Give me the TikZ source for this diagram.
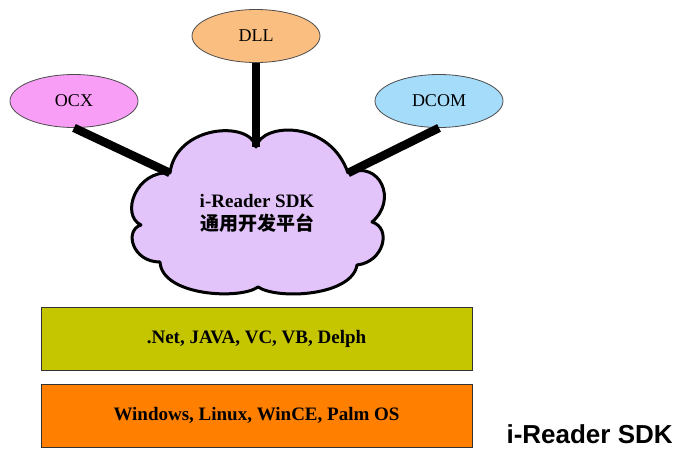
\documentclass[tikz,border=0pt]{standalone}
\usepackage{fontspec}
\setmainfont{Liberation Serif}
\newfontfamily\cjk{Noto Sans CJK SC}
\newfontfamily\headfont{Liberation Sans}
\usetikzlibrary{shapes.geometric}
\definecolor{ocxpink}{RGB}{248,158,246}
\definecolor{dllorange}{RGB}{250,190,128}
\definecolor{dcomblue}{RGB}{165,220,250}
\definecolor{cloudlilac}{RGB}{226,196,250}
\definecolor{langolive}{RGB}{198,198,0}
\definecolor{osorange}{RGB}{255,128,0}
\tikzset{api/.style = {shape = ellipse, draw = black!70, line width = 0.8pt, minimum width = 128pt, minimum height = 53pt, inner sep = 0pt, font = \fontsize{18}{18}\selectfont}}
\tikzset{platform/.style = {draw, line width = 3pt, line join = round, fill = cloudlilac}}
\tikzset{layer/.style = {draw = black!80, line width = 1pt, minimum width = 431pt, minimum height = 63pt, inner sep = 0pt, font = \bfseries\fontsize{19}{19}\selectfont}}
\tikzset{link/.style = {-, line width = 8.5pt}}

\begin{document}
\begin{tikzpicture}[x = 1pt, y = -1pt]
			\useasboundingbox (0, 0) rectangle (682, 448);

			\node[api, fill = ocxpink] (ocx) at (74, 101) {OCX};
			\node[api, fill = dllorange] (dll) at (256, 36) {DLL};
			\node[api, fill = dcomblue] (dcom) at (439, 101) {DCOM};

			% notches of the cloud
			\coordinate (n1) at (256, 147);
			\coordinate (n2) at (348, 173);
			\coordinate (n3) at (372, 222);
			\coordinate (n4) at (357, 265);
			\coordinate (n5) at (258, 287);
			\coordinate (n6) at (160, 262);
			\coordinate (n7) at (141, 225);
			\coordinate (n8) at (170, 173);

			\draw[platform] (n1) .. controls (262, 122) and (330, 120) .. (n2)
				.. controls (380, 160) and (398, 200) .. (n3)
				.. controls (392, 228) and (384, 262) .. (n4)
				.. controls (352, 296) and (278, 300) .. (n5)
				.. controls (240, 300) and (162, 296) .. (n6)
				.. controls (132, 262) and (124, 230) .. (n7)
				.. controls (120, 215) and (136, 170) .. (n8)
				.. controls (176, 125) and (250, 120) .. (n1) -- cycle;
			\node[align = center, font = \bfseries\fontsize{19}{23}\selectfont] (sdk) at (257, 213) {i-Reader SDK\\{\cjk 通用开发平台}};

			\draw[link] (ocx.south) to (n8);
			\draw[link] (dll.south) to (n1);
			\draw[link] (dcom.south) to (n2);

			\node[layer, fill = langolive] (lang) at (256.5, 339) {.Net, JAVA, VC, VB, Delph};
			\node[layer, fill = osorange] (os) at (256.5, 415.5) {Windows, Linux, WinCE, Palm OS};

			\node[anchor = base west, font = \headfont\bfseries\fontsize{26}{26}\selectfont] (title) at (503, 443) {i-Reader SDK};
		\end{tikzpicture}
\end{document}
